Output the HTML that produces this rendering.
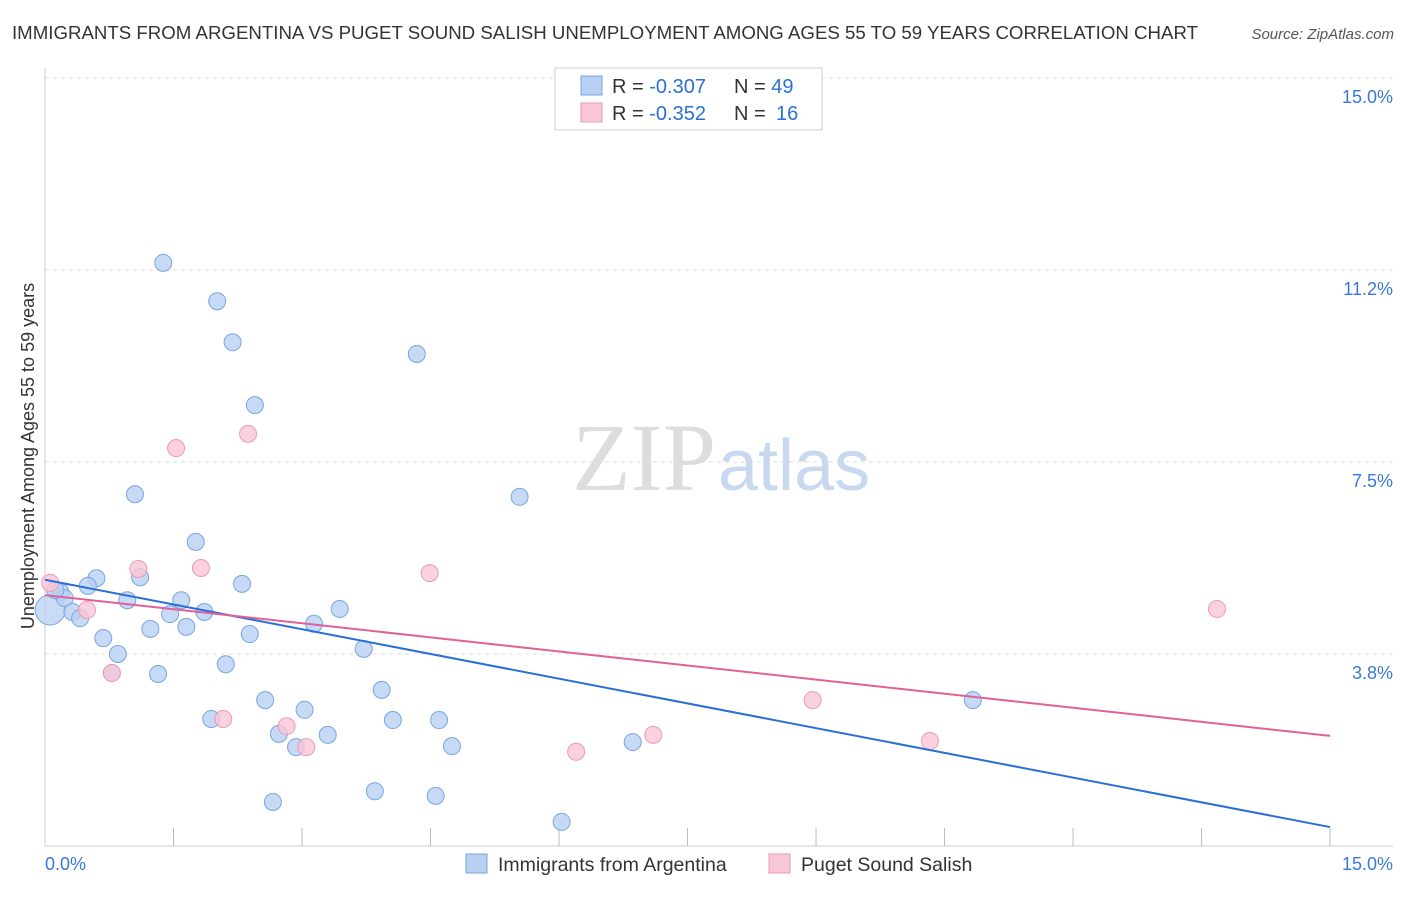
<!DOCTYPE html>
<html><head><meta charset="utf-8"><style>
body{margin:0;background:#fff;font-family:"Liberation Sans",sans-serif;}
svg text{font-family:"Liberation Sans",sans-serif;}
</style></head><body>
<svg id="chart" width="1406" height="892" xmlns="http://www.w3.org/2000/svg">
<text x="12" y="39" font-size="18" fill="#333" textLength="1186" lengthAdjust="spacingAndGlyphs">IMMIGRANTS FROM ARGENTINA VS PUGET SOUND SALISH UNEMPLOYMENT AMONG AGES 55 TO 59 YEARS CORRELATION CHART</text>
<text x="1394" y="39" font-size="15" fill="#555" font-style="italic" text-anchor="end">Source: ZipAtlas.com</text>
<g id="grid"></g>
<text x="716" y="490" font-size="96" fill="#ddd" text-anchor="end" style="font-family:'Liberation Serif',serif">ZIP</text>
<text x="718" y="490" font-size="72" fill="#c8d8ef">atlas</text>
<text transform="translate(34,456) rotate(-90)" font-size="18" fill="#333" text-anchor="middle">Unemployment Among Ages 55 to 59 years</text>
<g id="marks"></g>
<g>
<rect x="555" y="68" width="267" height="62" fill="#fff" stroke="#ccc"/>
<rect x="581" y="76" width="21" height="19" fill="#b8d0f2" stroke="#7aa5e0"/>
<rect x="581" y="103" width="21" height="19" fill="#f9c6d6" stroke="#ea9ab5"/>
<text x="612" y="93" font-size="20" fill="#333">R = <tspan fill="#2a6fd6">-0.307</tspan><tspan x="734">N = </tspan><tspan fill="#2a6fd6">49</tspan></text>
<text x="612" y="120" font-size="20" fill="#333">R = <tspan fill="#2a6fd6">-0.352</tspan><tspan x="734">N = </tspan><tspan x="776" fill="#2a6fd6">16</tspan></text>
</g>
<rect x="466" y="854" width="21" height="19" fill="#b8d0f2" stroke="#7aa5e0"/>
<text x="498" y="871" font-size="19.5" fill="#333">Immigrants from Argentina</text>
<rect x="769" y="854" width="21" height="19" fill="#f9c6d6" stroke="#ea9ab5"/>
<text x="801" y="871" font-size="19.5" fill="#333">Puget Sound Salish</text>
</svg>
<script>
const yTicks=[3.75,7.5,11.25,15.0];
const yTickLabels=["3.8%","7.5%","11.2%","15.0%"];
const blueX=[1.38,2.01,2.19,4.34,2.45,1.05,5.54,1.76,0.60,1.11,0.50,2.30,0.18,0.23,0.96,1.59,0.32,0.41,1.46,1.86,3.44,3.14,1.23,1.65,0.68,2.39,3.72,0.85,2.11,1.32,0.78,3.93,2.57,10.83,3.03,1.94,4.06,4.60,2.73,3.30,2.93,4.75,6.86,3.85,2.66,4.56,6.03,0.12];
const blueY=[11.39,10.64,9.84,9.61,8.61,6.87,6.82,5.94,5.23,5.25,5.08,5.12,4.96,4.84,4.80,4.80,4.57,4.45,4.53,4.57,4.63,4.34,4.24,4.28,4.06,4.14,3.85,3.75,3.55,3.36,3.38,3.05,2.85,2.85,2.66,2.48,2.46,2.46,2.19,2.17,1.93,1.95,2.03,1.07,0.86,0.98,0.47,5.0];
const pinkX=[0.06,0.49,0.78,1.09,1.53,2.37,1.82,4.49,2.08,2.82,3.05,6.20,7.10,8.96,10.33,13.68];
const pinkY=[5.14,4.61,3.38,5.41,7.77,8.05,5.43,5.33,2.48,2.34,1.93,1.84,2.17,2.85,2.05,4.63];
const blueTrend=[5.20,0.37];
const pinkTrend=[4.90,2.15];
const X=v=>45+v*85.67, Y=v=>846-v*51.2;
const NS="http://www.w3.org/2000/svg";
const grid=document.getElementById('grid'),marks=document.getElementById('marks');
function mk(tag,a,p){const e=document.createElementNS(NS,tag);for(const k in a)e.setAttribute(k,a[k]);p.appendChild(e);return e;}
let ax=mk('line',{x1:45,y1:68,x2:45,y2:846,stroke:'#ccc'},grid);


let bx=mk('line',{x1:45,y1:846,x2:1393,y2:846,stroke:'#ccc'},grid);


yTicks.forEach((t,i)=>{
 const g=mk('line',{x1:45,y1:Y(t),x2:1393,y2:Y(t),stroke:'#ddd','stroke-dasharray':'4,4'},grid);
 
 
 const l=mk('text',{x:1393,y:Y(t)+25,'font-size':18,fill:'#3a78d8','text-anchor':'end'},grid);
 l.textContent=yTickLabels[i];
 
 
});
for(let i=1;i<=10;i++){
 const t=mk('line',{x1:X(i*1.5),y1:828,x2:X(i*1.5),y2:846,stroke:'#bbb'},grid);
 
 
}
const x0=mk('text',{x:45,y:870,'font-size':18,fill:'#3a78d8'},grid);x0.textContent='0.0%';


const x1=mk('text',{x:1393,y:870,'font-size':18,fill:'#3a78d8','text-anchor':'end'},grid);x1.textContent='15.0%';


const big=mk('circle',{cx:X(0.06),cy:Y(4.61),r:15,fill:'#b8d0f2','fill-opacity':0.75,stroke:'#7aa5e0'},marks);


blueX.forEach((x,i)=>{const c=mk('circle',{cx:X(x),cy:Y(blueY[i]),r:8.5,fill:'#b8d0f2','fill-opacity':0.8,stroke:'#7aa5e0'},marks);
 
 });
pinkX.forEach((x,i)=>{const c=mk('circle',{cx:X(x),cy:Y(pinkY[i]),r:8.5,fill:'#f9c6d6','fill-opacity':0.8,stroke:'#ea9ab5'},marks);
 
 });
const bl=mk('line',{x1:X(0),y1:Y(blueTrend[0]),x2:X(15),y2:Y(blueTrend[1]),stroke:'#2a6fd6','stroke-width':2},marks);


const pl=mk('line',{x1:X(0),y1:Y(pinkTrend[0]),x2:X(15),y2:Y(pinkTrend[1]),stroke:'#e0609a','stroke-width':2},marks);


</script>
</body></html>
